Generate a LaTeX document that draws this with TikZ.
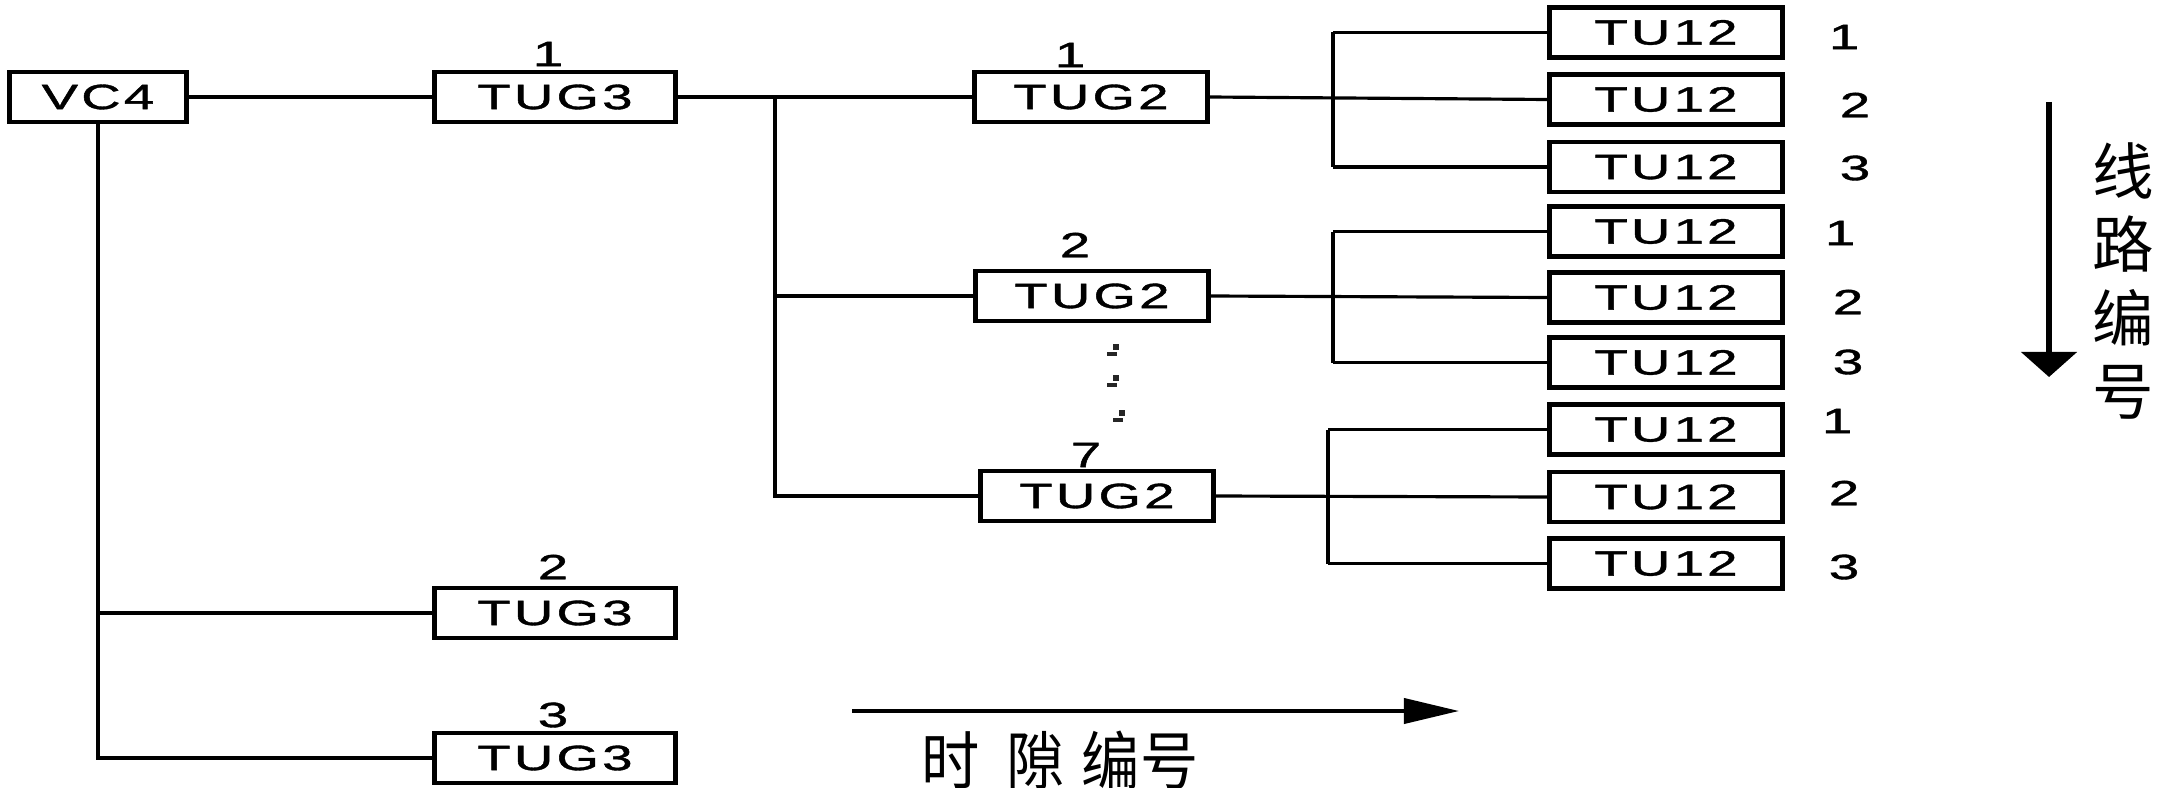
\documentclass[tikz,border=0pt]{standalone}
\usepackage{fontspec}
\usepackage{graphicx}
\usetikzlibrary{arrows.meta}
\newfontfamily\latf[LetterSpace=6,FakeBold=1]{Liberation Sans}
\newfontfamily\cjkf{Noto Sans CJK SC}
\newcommand{\wtxt}[1]{\scalebox{1.55}[1]{\latf\fontsize{10}{11}\selectfont #1}}
\tikzset{
  blk/.style={draw=black, line width=1.4pt, inner sep=0pt, minimum height=0.5cm},
  vcbox/.style={blk, minimum width=1.76cm},
  gthree/.style={blk, minimum width=2.4cm},
  gtwo/.style={blk, minimum width=2.33cm},
  tubox/.style={blk, minimum width=2.33cm},
  lbl/.style={inner sep=0pt},
  wire/.style={line width=0.9pt},
  buswire/.style={line width=1.3pt},
  dotmark/.style={fill=black!85, draw=none},
}
\begin{document}
\begin{tikzpicture}[x=0.01cm,y=-0.01cm]
\useasboundingbox (0,0) rectangle (2179,788);

% VC4 and TUG3
\node[vcbox] (vc4) at (98,97) {\wtxt{VC4}};
\node[gthree] (g3a) at (555,97) {\wtxt{TUG3}};
\node[gthree] (g3b) at (555,613) {\wtxt{TUG3}};
\node[gthree] (g3c) at (555,758) {\wtxt{TUG3}};
\node[lbl] (l3a) at (548,54) {\wtxt{1}};
\node[lbl] (l3b) at (553,567) {\wtxt{2}};
\node[lbl] (l3c) at (553,715) {\wtxt{3}};

% TUG2
\node[gtwo] (g2a) at (1091,97) {\wtxt{TUG2}};
\node[gtwo] (g2b) at (1092,296) {\wtxt{TUG2}};
\node[gtwo] (g2c) at (1097,496) {\wtxt{TUG2}};
\node[lbl] (l2a) at (1070,55) {\wtxt{1}};
\node[lbl] (l2b) at (1075,245) {\wtxt{2}};
\node[lbl] (l2c) at (1086,455) {\wtxt{7}};

% TU12
\node[tubox] (t1a) at (1666,32.5) {\wtxt{TU12}};
\node[tubox] (t1b) at (1666,99.5) {\wtxt{TU12}};
\node[tubox] (t1c) at (1666,167) {\wtxt{TU12}};
\node[tubox] (t2a) at (1666,231.5) {\wtxt{TU12}};
\node[tubox] (t2b) at (1666,297.5) {\wtxt{TU12}};
\node[tubox] (t2c) at (1666,362.5) {\wtxt{TU12}};
\node[tubox] (t3a) at (1666,429.5) {\wtxt{TU12}};
\node[tubox] (t3b) at (1666,497) {\wtxt{TU12}};
\node[tubox] (t3c) at (1666,563.5) {\wtxt{TU12}};
\node[lbl] (n1a) at (1844,37) {\wtxt{1}};
\node[lbl] (n1b) at (1855,105) {\wtxt{2}};
\node[lbl] (n1c) at (1855,168) {\wtxt{3}};
\node[lbl] (n2a) at (1840,233) {\wtxt{1}};
\node[lbl] (n2b) at (1848,302) {\wtxt{2}};
\node[lbl] (n2c) at (1848,362) {\wtxt{3}};
\node[lbl] (n3a) at (1837,421) {\wtxt{1}};
\node[lbl] (n3b) at (1844,493) {\wtxt{2}};
\node[lbl] (n3c) at (1844,567) {\wtxt{3}};

% connectors VC4 -> TUG3
\draw[wire] (vc4.east) -- (g3a.west);
\draw[buswire] (vc4.south) |- (g3c.west);
\draw[wire] (vc4.south |- g3b.west) -- (g3b.west);

% TUG3 -> TUG2
\coordinate (bus) at (775,97);
\draw[wire] (g3a.east) -- (g2a.west);
\draw[buswire] (bus) |- (g2c.west);
\draw[wire] (bus |- g2b.west) -- (g2b.west);

% TUG2 -> TU12 brackets
\coordinate (b1) at (1333,97);
\coordinate (b2) at (1333,296);
\coordinate (b3) at (1328,496);
\draw[wire] (g2a.east) -- (t1b.west);
\draw[wire] (t1a.west) -- (t1a.west -| b1);
\draw[buswire] (t1a.west -| b1) -- (t1c.west -| b1);
\draw[wire] (t1c.west -| b1) -- (t1c.west);
\draw[wire] (g2b.east) -- (t2b.west);
\draw[wire] (t2a.west) -- (t2a.west -| b2);
\draw[buswire] (t2a.west -| b2) -- (t2c.west -| b2);
\draw[wire] (t2c.west -| b2) -- (t2c.west);
\draw[wire] (g2c.east) -- (t3b.west);
\draw[wire] (t3a.west) -- (t3a.west -| b3);
\draw[buswire] (t3a.west -| b3) -- (t3c.west -| b3);
\draw[wire] (t3c.west -| b3) -- (t3c.west);

% ellipsis dots
\foreach \dx/\dy in {0/347, 0/378, 6/413}{
  \fill[dotmark] (1113+\dx,\dy-3) rectangle (1119+\dx,\dy+3);
  \fill[dotmark] (1107+\dx,\dy+5) rectangle (1117+\dx,\dy+9);
}

% arrows
\coordinate (va) at (2049,102);
\coordinate (vb) at (2049,377);
\draw[line width=1.5pt, -{Triangle[length=0.25cm, width=0.55cm]}] (va) -- (vb);
\coordinate (ha) at (852,711);
\coordinate (hb) at (1459,711);
\draw[line width=1.1pt, -{Triangle[length=0.55cm, width=0.25cm]}] (ha) -- (hb);

\node[lbl, align=center, font=\cjkf\fontsize{17.5}{20.8}\selectfont] (vt) at (2123,281) {线\\路\\编\\号};
\node[lbl] (ht) at (1060,760) {\scalebox{0.92}[1]{\cjkf\fontsize{18}{20}\selectfont 时\hspace{0.45em}隙\hspace{0.3em}编号}};
\end{tikzpicture}
\end{document}
